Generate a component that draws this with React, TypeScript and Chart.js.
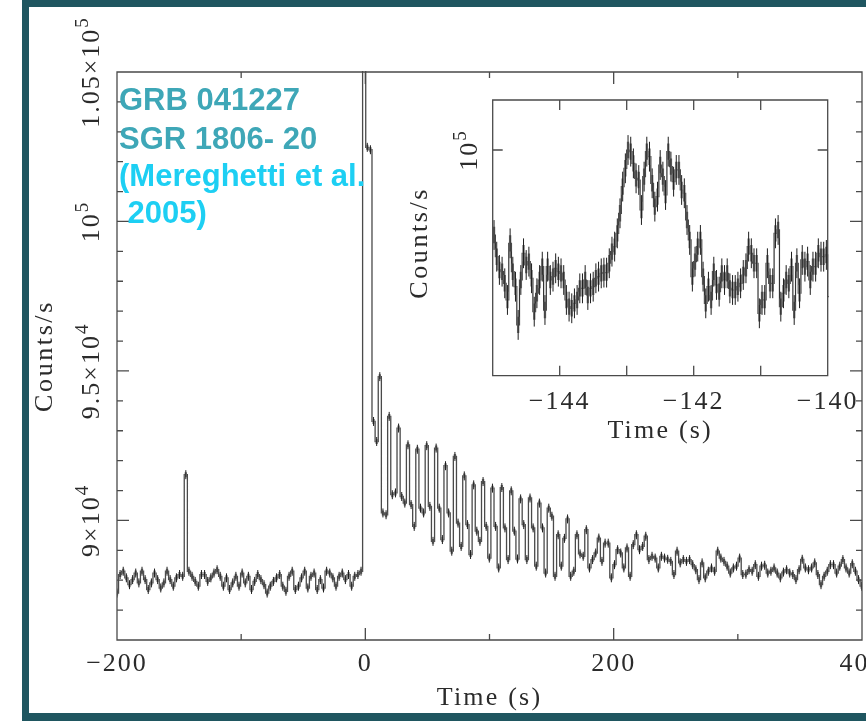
import React, { useEffect, useRef } from 'react';
import { Chart, registerables } from 'chart.js';

Chart.register(...registerables);

// ---------------- Main light curve (counts/s, 2.52 s bins) ----------------
const BIN_WIDTH = 2.52;
const PRE_START = -203.8;
const MAIN_ERR = 150;

// 80 bins before the giant flare (includes the precursor at about -143 s)
const PRE_BURST = [
  88020, 87570, 88190, 88300, 88080, 87850, 88020, 88240, 87910, 88300,
  88020, 87690, 87910, 88240, 88020, 87740, 87910, 88300, 88020, 87800,
  88080, 88190, 88130, 91530, 88300, 88130, 87960, 87800, 88190, 88190,
  87960, 88080, 88240, 88350, 88130, 87800, 88080, 87690, 87910, 88130,
  87800, 88240, 87910, 88130, 87690, 87960, 88190, 88020, 87850, 87570,
  87800, 87960, 88080, 88190, 87800, 87630, 88130, 88300, 87690, 87800,
  88080, 88300, 87740, 88130, 88240, 87690, 88020, 87740, 88300, 88240,
  88080, 87800, 88130, 88240, 88020, 88190, 87800, 88130, 88190, 88300,
];

// 160 bins from the flare onset (first bin saturates far above the frame)
const POST_BURST = [
  120000, 102480, 102400, 93310, 92640, 94810, 90250, 90190, 93480, 90860,
  90920, 93090, 90800, 90580, 92530, 90530, 89800, 92380, 90410, 90250,
  92500, 90470, 89300, 92420, 90410, 89360, 91830, 90250, 88970, 92140,
  89910, 89130, 91490, 89860, 88860, 91190, 89640, 89300, 91300, 89800,
  88740, 91080, 89800, 88410, 91100, 89750, 88690, 90990, 89640, 88710,
  90720, 89860, 88690, 90750, 89750, 88470, 90580, 89750, 88240, 90410,
  90140, 88130, 89520, 88470, 89400, 90050, 88130, 88300, 89520, 88880,
  88800, 89690, 88410, 88690, 88910, 89410, 88630, 89240, 89240, 88080,
  88520, 89020, 88910, 88410, 89080, 88130, 89190, 89520, 89020, 89130,
  89470, 88690, 88800, 88740, 88410, 88800, 88740, 88700, 88630, 88190,
  88970, 88580, 88690, 88630, 88690, 88520, 88350, 88020, 88580, 88080,
  88300, 88410, 88300, 88970, 88740, 88630, 88470, 88240, 88410, 88470,
  88740, 88190, 88200, 88350, 88300, 88520, 88130, 88470, 88500, 88240,
  88300, 88410, 88240, 88080, 88270, 88350, 88240, 88190, 88020, 88350,
  88700, 88410, 88350, 88410, 88580, 88190, 87850, 88130, 88300, 88520,
  88520, 88240, 88470, 88690, 88410, 88240, 88550, 88300, 88020, 87800,
];

const MAIN_X_MAJOR = [-200, 0, 200, 400];
const MAIN_X_MINOR = [-100, 100, 300];
const MAIN_X_LABELS = ['\u2212200', '0', '200', '400'];
const MAIN_Y_MAJOR = [90000, 95000, 100000, 105000];
const MAIN_Y_MINOR = [
  87000, 88000, 89000, 91000, 92000, 93000, 94000, 96000, 97000,
  98000, 99000, 101000, 102000, 103000, 104000,
];
const MAIN_Y_LABELS = [['9\u00d710', '4'], ['9.5\u00d710', '4'], ['10', '5'], ['1.05\u00d710', '5']];

// ---------------- Inset: the precursor at finer resolution ----------------
const INSET_START = -145;
const INSET_BIN = 0.04;
const INSET_ERR = 1450;
const INSET_VALUES = [
  91730, 89620, 88330, 88160, 87030, 85410, 90920, 88160, 86700, 82980,
  87350, 89950, 88810, 89140, 87520, 84270, 86060, 87350, 88650, 84430,
  88650, 87350, 87680, 88490, 88160, 88000, 87350, 85410, 84760, 84600,
  85080, 85410, 86540, 86540, 87350, 85890, 86540, 86700, 87520, 87680,
  88000, 88070, 88070, 88980, 90110, 90600, 91890, 93840,
  96440, 98220, 100000, 99840, 98700, 97240, 97080, 94160, 97410, 99840,
  99350, 96760, 94490, 95460, 98540, 97410, 95620, 99840, 98380, 96920,
  98060, 98060, 96110, 95790, 93190, 91250,
  87680, 89140, 90600, 91250, 87680, 85080, 86700, 85410, 88160, 86870,
  86220, 88000, 87350, 88000, 86540, 86380, 86380, 86700, 87030, 87840,
  88490, 90600, 89950, 88980, 88980, 84110, 85410, 85410, 88980, 87030,
  87030, 91890, 92220, 84760, 86060, 87350, 87030, 88650, 84430, 88980,
  86060, 89300, 88650, 89140, 87350, 88650, 88650, 89950, 89620, 89620,
  89790, 85730,
];
const INSET_X_MAJOR = [-144, -143, -142, -141];
const INSET_X_LABEL_VALUES = [-144, -142, -140];
const INSET_X_LABELS = ['\u2212144', '\u2212142', '\u2212140'];
const INSET_Y_MAJOR = [100000];
const INSET_Y_LABELS = [['10', '5']];

// ---------------- styling helpers ----------------
const SERIF = '"Liberation Serif", "Times New Roman", serif';
const SANS = '"Liberation Sans", Arial, sans-serif';
const AXIS_COLOR = '#4a4a4a';
const TEXT_COLOR = '#2b2b2b';

function drawLabel(ctx, base, sup, x, y, size, rotated, spacing) {
  ctx.save();
  ctx.translate(x, y);
  if (rotated) ctx.rotate(-Math.PI / 2);
  ctx.fillStyle = TEXT_COLOR;
  ctx.textAlign = 'left';
  ctx.textBaseline = 'alphabetic';
  ctx.letterSpacing = spacing + 'px';
  const supSize = Math.round(size * 0.72);
  ctx.font = `${size}px ${SERIF}`;
  const wb = ctx.measureText(base).width;
  ctx.font = `${supSize}px ${SERIF}`;
  const ws = sup ? ctx.measureText(sup).width : 0;
  const start = -(wb + ws) / 2;
  ctx.font = `${size}px ${SERIF}`;
  ctx.fillText(base, start, 0);
  if (sup) {
    ctx.font = `${supSize}px ${SERIF}`;
    ctx.fillText(sup, start + wb, -size * 0.42);
  }
  ctx.restore();
}

function drawFrame(chart, xMajor, xMinor, yMajor, yMinor, majLen, minLen) {
  const { ctx, chartArea: a } = chart;
  const xs = chart.scales.x;
  const ys = chart.scales.y;
  ctx.save();
  ctx.strokeStyle = AXIS_COLOR;
  ctx.lineWidth = 1.3;
  ctx.beginPath();
  ctx.rect(a.left, a.top, a.right - a.left, a.bottom - a.top);
  const xTick = (v, len) => {
    const px = xs.getPixelForValue(v);
    if (px < a.left + 1 || px > a.right - 1) return;
    ctx.moveTo(px, a.bottom); ctx.lineTo(px, a.bottom - len);
    ctx.moveTo(px, a.top); ctx.lineTo(px, a.top + len);
  };
  const yTick = (v, len) => {
    const py = ys.getPixelForValue(v);
    if (py < a.top + 1 || py > a.bottom - 1) return;
    ctx.moveTo(a.left, py); ctx.lineTo(a.left + len, py);
    ctx.moveTo(a.right, py); ctx.lineTo(a.right - len, py);
  };
  xMajor.forEach((v) => xTick(v, majLen));
  xMinor.forEach((v) => xTick(v, minLen));
  yMajor.forEach((v) => yTick(v, majLen));
  yMinor.forEach((v) => yTick(v, minLen));
  ctx.stroke();
  ctx.restore();
}

// error bars: a thick grey core plus a thin dark whisker, as in the plotted light curve
function errorBars(err, coreWidth) {
  return {
    id: 'errorBars',
    afterDatasetsDraw(chart) {
      const { ctx, chartArea: a } = chart;
      const xs = chart.scales.x;
      const ys = chart.scales.y;
      const pts = chart.data.datasets[0].data;
      ctx.save();
      ctx.beginPath();
      ctx.rect(a.left, a.top, a.right - a.left, a.bottom - a.top);
      ctx.clip();
      ctx.strokeStyle = '#7a7a7a';
      ctx.lineWidth = coreWidth;
      ctx.beginPath();
      pts.forEach((p) => {
        const px = xs.getPixelForValue(p.x);
        ctx.moveTo(px, ys.getPixelForValue(p.y - err * 0.55));
        ctx.lineTo(px, ys.getPixelForValue(p.y + err * 0.55));
      });
      ctx.stroke();
      ctx.strokeStyle = '#1e1e1e';
      ctx.lineWidth = 1;
      ctx.beginPath();
      pts.forEach((p) => {
        const px = xs.getPixelForValue(p.x);
        ctx.moveTo(px, ys.getPixelForValue(p.y - err));
        ctx.lineTo(px, ys.getPixelForValue(p.y + err));
      });
      ctx.stroke();
      ctx.restore();
    },
  };
}

const mainDecor = {
  id: 'mainDecor',
  afterDraw(chart) {
    const { ctx, chartArea: a } = chart;
    const xs = chart.scales.x;
    const ys = chart.scales.y;
    drawFrame(chart, MAIN_X_MAJOR, MAIN_X_MINOR, MAIN_Y_MAJOR, MAIN_Y_MINOR, 12, 6);
    MAIN_X_MAJOR.forEach((v, i) => {
      drawLabel(ctx, MAIN_X_LABELS[i], '', xs.getPixelForValue(v), a.bottom + 31, 26, false, 2);
    });
    MAIN_Y_MAJOR.forEach((v, i) => {
      drawLabel(ctx, MAIN_Y_LABELS[i][0], MAIN_Y_LABELS[i][1], a.left - 18, ys.getPixelForValue(v), 26, true, 2);
    });
    drawLabel(ctx, 'Time (s)', '', (a.left + a.right) / 2, a.bottom + 65, 26, false, 2.2);
    drawLabel(ctx, 'Counts/s', '', 52, (a.top + a.bottom) / 2, 26, true, 2.6);

    ctx.save();
    ctx.font = `bold 31px ${SANS}`;
    ctx.textAlign = 'left';
    ctx.textBaseline = 'alphabetic';
    ctx.fillStyle = '#3ea7b7';
    ctx.fillText('GRB 041227', 119, 110);
    ctx.fillText('SGR 1806- 20', 119, 149);
    ctx.fillStyle = '#1dcff3';
    ctx.fillText('(Mereghetti et al.', 119, 186);
    ctx.fillText(' 2005)', 119, 223);
    ctx.restore();
  },
};

const insetDecor = {
  id: 'insetDecor',
  afterDraw(chart) {
    const { ctx, chartArea: a } = chart;
    const xs = chart.scales.x;
    const ys = chart.scales.y;
    drawFrame(chart, INSET_X_MAJOR, [], INSET_Y_MAJOR, [], 10, 5);
    INSET_X_LABEL_VALUES.forEach((v, i) => {
      drawLabel(ctx, INSET_X_LABELS[i], '', xs.getPixelForValue(v), a.bottom + 33, 26, false, 2);
    });
    INSET_Y_MAJOR.forEach((v, i) => {
      drawLabel(ctx, INSET_Y_LABELS[i][0], INSET_Y_LABELS[i][1], a.left - 16, ys.getPixelForValue(v), 26, true, 2);
    });
    drawLabel(ctx, 'Time (s)', '', (a.left + a.right) / 2, a.bottom + 62, 26, false, 2.2);
    drawLabel(ctx, 'Counts/s', '', a.left - 66, (a.top + a.bottom) / 2 + 5, 26, true, 2.6);
  },
};

function hiddenScale(min, max) {
  return {
    type: 'linear',
    min,
    max,
    display: false,
  };
}

export default function App() {
  const mainRef = useRef<HTMLCanvasElement>(null);
  const insetRef = useRef<HTMLCanvasElement>(null);

  useEffect(() => {
    const mainValues = PRE_BURST.concat(POST_BURST);
    const mainPoints = mainValues.map((v, i) => ({ x: PRE_START + (i + 0.5) * BIN_WIDTH, y: v }));
    const insetPoints = INSET_VALUES.map((v, i) => ({ x: INSET_START + (i + 0.5) * INSET_BIN, y: v }));

    const main = new Chart(mainRef.current, {
      type: 'line',
      data: {
        datasets: [{
          data: mainPoints,
          stepped: 'middle',
          borderColor: '#4a4a4a',
          borderWidth: 1.3,
          pointRadius: 0,
          fill: false,
          clip: 1,
        }],
      },
      options: {
        animation: false,
        responsive: false,
        maintainAspectRatio: false,
        layout: { padding: { left: 117, top: 72, right: 4, bottom: 81 } },
        plugins: { legend: { display: false }, tooltip: { enabled: false } },
        scales: { x: hiddenScale(-200, 400), y: hiddenScale(86000, 105000) },
      },
      plugins: [errorBars(MAIN_ERR, 2.4), mainDecor],
    });

    const inset = new Chart(insetRef.current, {
      type: 'line',
      data: {
        datasets: [{
          data: insetPoints,
          stepped: 'middle',
          borderColor: '#333333',
          borderWidth: 1.2,
          pointRadius: 0,
          fill: false,
          clip: 1,
        }],
      },
      options: {
        animation: false,
        responsive: false,
        maintainAspectRatio: false,
        layout: { padding: { left: 92.7, top: 10, right: 38.3, bottom: 74.3 } },
        plugins: { legend: { display: false }, tooltip: { enabled: false } },
        scales: { x: hiddenScale(-145, -140), y: hiddenScale(78040, 104865) },
      },
      plugins: [errorBars(INSET_ERR, 2.4), insetDecor],
    });

    return () => {
      main.destroy();
      inset.destroy();
    };
  }, []);

  return (
    <div style={{ position: 'fixed', left: 0, top: 0, width: 866, height: 721, background: '#ffffff', overflow: 'hidden' }}>
      <div
        style={{
          position: 'absolute', left: 22, top: 0, width: 900, height: 721, boxSizing: 'border-box',
          borderLeft: '7px solid #1f5660', borderTop: '7px solid #1f5660', borderBottom: '8px solid #1f5660',
        }}
      />
      <canvas
        ref={mainRef}
        width={866}
        height={721}
        style={{ position: 'absolute', left: 0, top: 0, width: 866, height: 721 }}
      />
      <canvas
        ref={insetRef}
        width={466}
        height={360}
        style={{ position: 'absolute', left: 400, top: 90, width: 466, height: 360 }}
      />
    </div>
  );
}
